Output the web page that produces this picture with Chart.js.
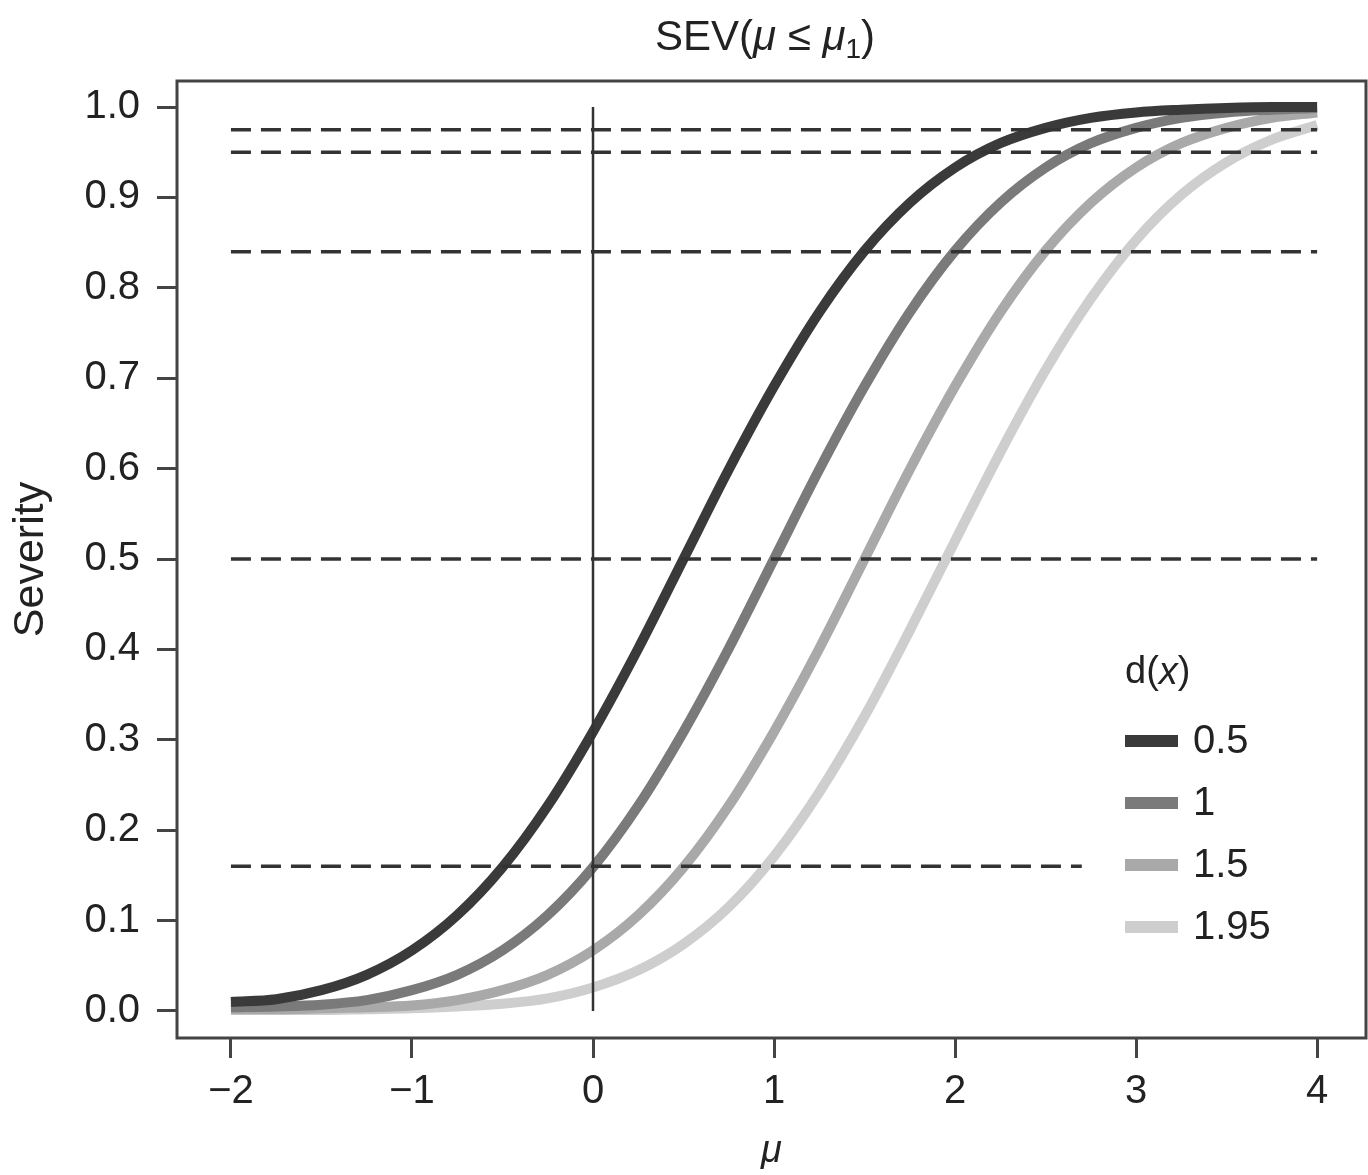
<!DOCTYPE html>
<html>
<head>
<meta charset="utf-8">
<script src="https://cdn.jsdelivr.net/npm/chart.js@4.4.1/dist/chart.umd.min.js"></script>
<style>
  body { margin: 0; background: #fff; }
  #wrap { position: relative; width: 1368px; height: 1175px; }
  #title {
    position: absolute; left: 0; top: 12px; width: 1530px; text-align: center;
    font-family: "Liberation Sans", Arial, sans-serif; font-size: 42px; color: #222;
    line-height: 48px;
  }
  #title sub { font-size: 28px; vertical-align: -8px; line-height: 0; }
</style>
</head>
<body>
<div id="wrap">
  <div id="title">SEV(<i>μ</i> ≤ <i>μ</i><sub>1</sub>)</div>
  <canvas id="sevChart" width="1368" height="1175"></canvas>
</div>
<script>
// mu values the curves were read at
var muGrid = [-2, -1.75, -1.5, -1.25, -1, -0.75, -0.5, -0.25, 0, 0.25, 0.5, 0.75, 1,
              1.25, 1.5, 1.75, 2, 2.25, 2.5, 2.75, 3, 3.25, 3.5, 3.75, 4];

// severity, one list per d(x)
var sevD05  = [0.010, 0.013, 0.023, 0.040, 0.067, 0.106, 0.159, 0.227, 0.309, 0.401, 0.500, 0.599, 0.691,
               0.773, 0.841, 0.894, 0.933, 0.960, 0.977, 0.988, 0.994, 0.997, 0.999, 1.000, 1.000];
var sevD1   = [0.004, 0.005, 0.007, 0.012, 0.023, 0.040, 0.067, 0.106, 0.159, 0.227, 0.309, 0.401, 0.500,
               0.599, 0.691, 0.773, 0.841, 0.894, 0.933, 0.960, 0.977, 0.988, 0.994, 0.997, 0.999];
var sevD15  = [0.002, 0.002, 0.003, 0.004, 0.006, 0.012, 0.023, 0.040, 0.067, 0.106, 0.159, 0.227, 0.309,
               0.401, 0.500, 0.599, 0.691, 0.773, 0.841, 0.894, 0.933, 0.960, 0.977, 0.988, 0.994];
var sevD195 = [0.001, 0.001, 0.001, 0.002, 0.003, 0.005, 0.008, 0.014, 0.026, 0.045, 0.074, 0.115, 0.171,
               0.242, 0.326, 0.421, 0.520, 0.618, 0.709, 0.788, 0.853, 0.903, 0.939, 0.964, 0.980];

var seriesLabels = ["0.5", "1", "1.5", "1.95"];
var seriesColors = ["#3a3a3a", "#7a7a7a", "#a9a9a9", "#cecece"];

// dashed reference levels and where each one stops on the mu axis
var refLevels = [0.975, 0.95, 0.84, 0.5, 0.16];
var refStart = -2;
var refEnds = [4, 4, 4, 4, 2.7];

var xTicks = [-2, -1, 0, 1, 2, 3, 4];
var yTicks = [0, 0.1, 0.2, 0.3, 0.4, 0.5, 0.6, 0.7, 0.8, 0.9, 1.0];

function toPoints(ys) {
  return muGrid.map(function(m, i) { return {x: m, y: ys[i]}; });
}

var FONT = "'Liberation Sans', Arial, sans-serif";
var datasets = [];

// reference lines first so they sit on top
for (var i = 0; i < refLevels.length; i++) {
  datasets.push({
    data: [{x: refStart, y: refLevels[i]}, {x: refEnds[i], y: refLevels[i]}],
    borderColor: "#333",
    borderWidth: 3.5,
    borderDash: [20, 10],
    pointRadius: 0,
    order: 0
  });
}
datasets.push({
  data: [{x: 0, y: 0}, {x: 0, y: 1}],
  borderColor: "#333",
  borderWidth: 2.5,
  pointRadius: 0,
  order: 0
});

var allSev = [sevD05, sevD1, sevD15, sevD195];
for (var j = 0; j < allSev.length; j++) {
  datasets.push({
    label: seriesLabels[j],
    isCurve: true,
    data: toPoints(allSev[j]),
    borderColor: seriesColors[j],
    borderWidth: 10,
    pointRadius: 0,
    cubicInterpolationMode: "monotone",
    borderCapStyle: "butt",
    order: j + 1
  });
}

// frame around plot area
var framePlugin = {
  id: "frame",
  beforeDatasetsDraw: function(chart) {
    var a = chart.chartArea, ctx = chart.ctx;
    ctx.save();
    ctx.strokeStyle = "#444";
    ctx.lineWidth = 3;
    ctx.strokeRect(a.left, a.top, a.right - a.left, a.bottom - a.top);
    ctx.restore();
  }
};

// legend drawn inside the plot, from the curve datasets
var legendPlugin = {
  id: "sevLegend",
  afterDatasetsDraw: function(chart) {
    var ctx = chart.ctx;
    var x0 = 1125, y0 = 673;
    ctx.save();
    ctx.fillStyle = "#222";
    ctx.textBaseline = "middle";
    ctx.textAlign = "left";
    ctx.font = "38px " + FONT;
    ctx.fillText("d(", x0, y0);
    var w1 = ctx.measureText("d(").width;
    ctx.font = "italic 38px " + FONT;
    ctx.fillText("x", x0 + w1, y0);
    var w2 = ctx.measureText("x").width;
    ctx.font = "38px " + FONT;
    ctx.fillText(")", x0 + w1 + w2, y0);

    var row = 0;
    chart.data.datasets.forEach(function(ds) {
      if (!ds.isCurve) return;
      var y = 741 + row * 62;
      ctx.strokeStyle = ds.borderColor;
      ctx.lineWidth = 12;
      ctx.beginPath();
      ctx.moveTo(x0, y);
      ctx.lineTo(x0 + 53, y);
      ctx.stroke();
      ctx.fillStyle = "#222";
      ctx.font = "40px " + FONT;
      ctx.fillText(ds.label, x0 + 68, y + 1);
      row++;
    });
    ctx.restore();
  }
};

var ctx = document.getElementById("sevChart");
var sevChart = new Chart(ctx, {
  type: "line",
  data: { datasets: datasets },
  plugins: [framePlugin, legendPlugin],
  options: {
    responsive: false,
    animation: false,
    layout: { padding: { left: 0, top: 81, right: 2, bottom: 0 } },
    plugins: { legend: { display: false }, tooltip: { enabled: false } },
    scales: {
      x: {
        type: "linear",
        min: -2.298,
        max: 4.27,
        afterBuildTicks: function(scale) {
          scale.ticks = xTicks.map(function(v) { return {value: v}; });
        },
        afterFit: function(scale) { scale.height = 137; },
        grid: { drawOnChartArea: false, drawTicks: true, tickLength: 20, color: "#444", lineWidth: 3 },
        border: { display: false },
        ticks: {
          padding: 10,
          color: "#222",
          font: { family: FONT, size: 40 },
          callback: function(v) { return v < 0 ? "\u2212" + Math.abs(v) : String(v); }
        },
        title: {
          display: true,
          text: "μ",
          color: "#222",
          font: { family: FONT, size: 38, style: "italic" },
          padding: { top: 0, bottom: 1 }
        }
      },
      y: {
        type: "linear",
        min: -0.0299,
        max: 1.0288,
        afterBuildTicks: function(scale) {
          scale.ticks = yTicks.map(function(v) { return {value: v}; });
        },
        afterFit: function(scale) { scale.width = 177; },
        grid: { drawOnChartArea: false, drawTicks: true, tickLength: 20, color: "#444", lineWidth: 3 },
        border: { display: false },
        ticks: {
          padding: 17,
          color: "#222",
          font: { family: FONT, size: 40 },
          callback: function(v) { return Number(v).toFixed(1); }
        },
        title: {
          display: true,
          text: "Severity",
          color: "#222",
          font: { family: FONT, size: 43 },
          padding: { top: 5, bottom: 0 }
        }
      }
    }
  }
});
</script>
</body>
</html>
